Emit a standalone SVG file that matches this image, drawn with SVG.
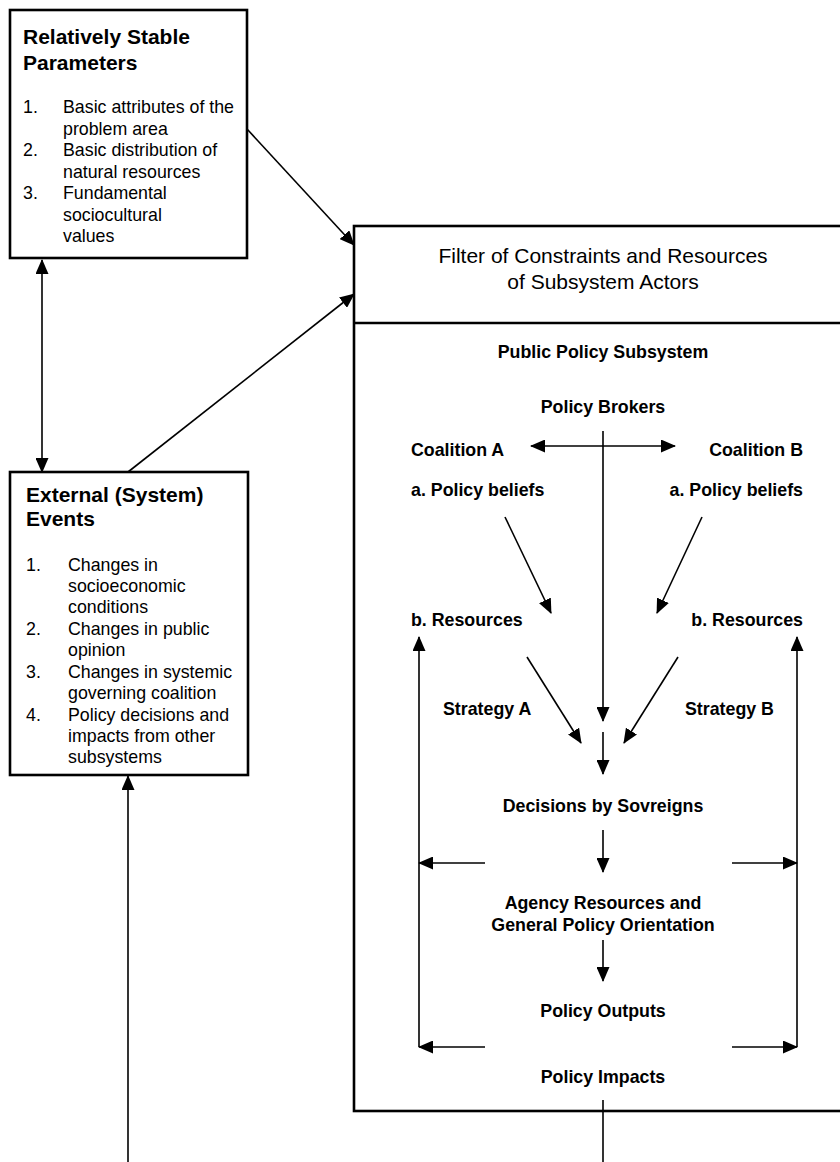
<svg xmlns="http://www.w3.org/2000/svg" width="840" height="1162" viewBox="0 0 840 1162">
  <style>
    .box { fill: #fff; stroke: #000; stroke-width: 2.6; }
    .title { font-family: "Liberation Sans", Arial, sans-serif; font-weight: bold; font-size: 21px; fill: #000; }
    .item { font-family: "Liberation Sans", Arial, sans-serif; font-size: 17.8px; fill: #000; }
    .head { font-family: "Liberation Sans", Arial, sans-serif; font-size: 21px; fill: #000; text-anchor: middle; }
    .lbl { font-family: "Liberation Sans", Arial, sans-serif; font-weight: bold; font-size: 17.8px; fill: #000; }
    .mid { text-anchor: middle; }
    .end { text-anchor: end; }
    .conn line { stroke: #000; stroke-width: 1.6; fill: none; }
    .arr { marker-end: url(#tip); }
    .both { marker-start: url(#tip); marker-end: url(#tip); }
  </style>
  <defs>
    <marker id="tip" viewBox="0 0 15 13" refX="14" refY="6.5" markerWidth="15" markerHeight="13" markerUnits="userSpaceOnUse" orient="auto-start-reverse">
      <path d="M0,0 L15,6.5 L0,13 z" fill="#000"/>
    </marker>
  </defs>
  <rect width="840" height="1162" fill="#fff"/>

  <!-- Relatively stable parameters -->
  <g id="stable-parameters">
    <rect class="box" x="10" y="10" width="237" height="248"/>
    <text class="title" x="23" y="44">Relatively Stable</text>
    <text class="title" x="23" y="70">Parameters</text>
    <text class="item" x="23" y="113">1.</text>
    <text class="item" x="63" y="113">Basic attributes of the</text>
    <text class="item" x="63" y="134.5">problem area</text>
    <text class="item" x="23" y="156">2.</text>
    <text class="item" x="63" y="156">Basic distribution of</text>
    <text class="item" x="63" y="177.5">natural resources</text>
    <text class="item" x="23" y="199">3.</text>
    <text class="item" x="63" y="199">Fundamental</text>
    <text class="item" x="63" y="220.5">sociocultural</text>
    <text class="item" x="63" y="242">values</text>
  </g>

  <!-- External system events -->
  <g id="external-events">
    <rect class="box" x="10" y="472" width="238" height="303"/>
    <text class="title" x="26" y="502">External (System)</text>
    <text class="title" x="26" y="526">Events</text>
    <text class="item" x="26" y="571">1.</text>
    <text class="item" x="68" y="571">Changes in</text>
    <text class="item" x="68" y="592">socioeconomic</text>
    <text class="item" x="68" y="613">conditions</text>
    <text class="item" x="26" y="635">2.</text>
    <text class="item" x="68" y="635">Changes in public</text>
    <text class="item" x="68" y="656">opinion</text>
    <text class="item" x="26" y="678">3.</text>
    <text class="item" x="68" y="678">Changes in systemic</text>
    <text class="item" x="68" y="699">governing coalition</text>
    <text class="item" x="26" y="721">4.</text>
    <text class="item" x="68" y="721">Policy decisions and</text>
    <text class="item" x="68" y="742">impacts from other</text>
    <text class="item" x="68" y="763">subsystems</text>
  </g>

  <!-- Subsystem frame: filter band above, policy subsystem below -->
  <g id="subsystem-frame">
    <rect class="box" x="354" y="226" width="498" height="885"/>
    <line x1="354" y1="323" x2="852" y2="323" stroke="#000" stroke-width="2.6"/>
    <text class="head" x="603" y="263">Filter of Constraints and Resources</text>
    <text class="head" x="603" y="289">of Subsystem Actors</text>
  </g>

  <g id="subsystem-labels">
    <text class="lbl mid" x="603" y="358">Public Policy Subsystem</text>
    <text class="lbl mid" x="603" y="413">Policy Brokers</text>
    <text class="lbl" x="411" y="456">Coalition A</text>
    <text class="lbl end" x="803" y="456">Coalition B</text>
    <text class="lbl" x="411" y="496">a. Policy beliefs</text>
    <text class="lbl end" x="803" y="496">a. Policy beliefs</text>
    <text class="lbl" x="411" y="626">b. Resources</text>
    <text class="lbl end" x="803" y="626">b. Resources</text>
    <text class="lbl" x="443" y="715">Strategy A</text>
    <text class="lbl" x="685" y="715">Strategy B</text>
    <text class="lbl mid" x="603" y="812">Decisions by Sovreigns</text>
    <text class="lbl mid" x="603" y="909">Agency Resources and</text>
    <text class="lbl mid" x="603" y="931">General Policy Orientation</text>
    <text class="lbl mid" x="603" y="1017">Policy Outputs</text>
    <text class="lbl mid" x="603" y="1083">Policy Impacts</text>
  </g>

  <g id="connectors" class="conn">
    <!-- outer links -->
    <line class="both" x1="42" y1="260" x2="42" y2="472"/>
    <line class="arr" x1="247" y1="129" x2="354" y2="245"/>
    <line class="arr" x1="128" y1="472" x2="354" y2="294"/>
    <line class="arr" x1="128" y1="1162" x2="128" y2="776"/>
    <!-- brokers and coalitions -->
    <line class="arr" x1="603" y1="431" x2="603" y2="721"/>
    <line class="both" x1="531" y1="446" x2="675" y2="446"/>
    <line class="arr" x1="505" y1="517" x2="551" y2="613"/>
    <line class="arr" x1="702" y1="517" x2="657" y2="613"/>
    <line class="arr" x1="527" y1="657" x2="581" y2="743"/>
    <line class="arr" x1="678" y1="657" x2="624" y2="743"/>
    <!-- decision chain -->
    <line class="arr" x1="603" y1="732" x2="603" y2="774"/>
    <line class="arr" x1="603" y1="830" x2="603" y2="872"/>
    <line class="arr" x1="603" y1="940" x2="603" y2="981"/>
    <line x1="603" y1="1100" x2="603" y2="1162"/>
    <!-- feedback to coalition resources -->
    <line class="arr" x1="485" y1="863" x2="419" y2="863"/>
    <line class="arr" x1="732" y1="863" x2="797" y2="863"/>
    <line class="arr" x1="485" y1="1047" x2="419" y2="1047"/>
    <line class="arr" x1="732" y1="1047" x2="797" y2="1047"/>
    <line class="arr" x1="419" y1="1047" x2="419" y2="637"/>
    <line class="arr" x1="797" y1="1047" x2="797" y2="637"/>
  </g>
</svg>
